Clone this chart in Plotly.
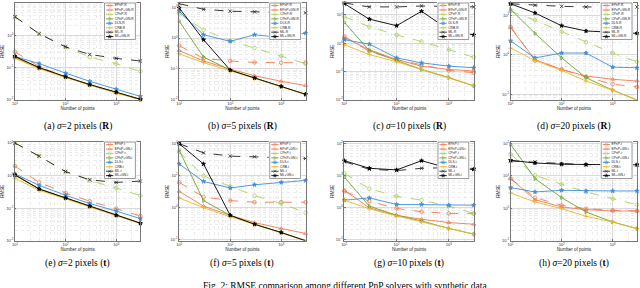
import math
import plotly.graph_objects as go

# ---------------- data ----------------
num_points = [10, 30, 100, 300, 1000, 3000]
methods = ['EPnP', 'EPnP+GN', 'CPnP', 'CPnP+GN', 'DLS', 'CRB', 'ML', 'ML+GN']
x_tick_vals = [10, 100, 1000]
x_tick_text = ['10<sup>1</sup>', '10<sup>2</sup>', '10<sup>3</sup>']

# rows follow the order of `methods`
rmse_R_s2 = [
    [0.305, 0.106, 0.0514, 0.0286, 0.0163, 0.0105],
    [0.210, 0.097, 0.0500, 0.0290, 0.0167, 0.0102],
    [3.74, 1.11, 0.433, 0.209, 0.131, 0.0748],
    [0.200, 0.095, 0.0500, 0.0285, 0.0165, 0.0101],
    [0.220, 0.131, 0.0665, 0.0370, 0.0211, 0.0126],
    [0.191, 0.092, 0.0490, 0.0280, 0.0160, 0.0100],
    [3.74, 1.11, 0.433, 0.253, 0.191, 0.158],
    [0.220, 0.099, 0.0514, 0.0293, 0.0171, 0.0102],
]
rmse_R_s5 = [
    [0.569, 0.219, 0.180, 0.162, 0.158, 0.160],
    [0.394, 0.180, 0.0977, 0.0598, 0.0394, 0.0286],
    [6.28, 1.85, 0.822, 0.480, 0.260, 0.148],
    [3.57, 0.242, 0.0906, 0.0504, 0.0267, 0.0148],
    [7.45, 1.28, 0.783, 1.28, 1.05, 1.45],
    [0.308, 0.159, 0.0863, 0.0491, 0.0267, 0.0148],
    [13.1, 8.63, 7.45, 7.10, 6.59, 6.59],
    [9.53, 0.885, 0.0910, 0.0505, 0.0268, 0.0149],
]
rmse_R_s10 = [
    [1.71, 0.512, 0.262, 0.175, 0.108, 0.0897],
    [1.58, 0.585, 0.262, 0.153, 0.117, 0.103],
    [8.51, 3.81, 1.95, 1.14, 0.585, 0.316],
    [5.41, 0.541, 0.242, 0.117, 0.0601, 0.0308],
    [1.31, 0.923, 0.300, 0.200, 0.153, 0.134],
    [0.875, 0.392, 0.217, 0.117, 0.0601, 0.0308],
    [26.3, 19.1, 19.1, 20.6, 20.0, 19.1],
    [24.8, 7.06, 4.13, 13.4, 2.92, 1.95],
]
rmse_R_s20 = [
    [5.11, 0.708, 0.422, 0.271, 0.178, 0.152],
    [4.82, 0.750, 0.422, 0.287, 0.237, 0.215],
    [12.6, 7.50, 3.83, 2.07, 1.10, 0.656],
    [14.1, 3.48, 0.826, 0.261, 0.126, 0.0708],
    [2.24, 0.826, 1.10, 1.10, 0.482, 0.465],
    [1.47, 0.708, 0.398, 0.215, 0.126, 0.0708],
    [19.5, 17.8, 16.8, 16.2, 16.2, 16.2],
    [19.5, 11.4, 5.41, 3.98, 3.69, 3.47],
]
rmse_t_s2 = [
    [1.96, 0.614, 0.292, 0.163, 0.0955, 0.0573],
    [1.07, 0.394, 0.206, 0.115, 0.0614, 0.0351],
    [10.0, 3.94, 1.32, 0.705, 0.413, 0.242],
    [1.02, 0.385, 0.201, 0.112, 0.0600, 0.0343],
    [1.12, 0.498, 0.248, 0.138, 0.0811, 0.0475],
    [0.830, 0.351, 0.192, 0.107, 0.0586, 0.0335],
    [10.0, 3.94, 1.32, 0.740, 0.614, 0.676],
    [1.05, 0.385, 0.206, 0.115, 0.0600, 0.0343],
]
rmse_t_s5 = [
    [6.08, 2.14, 1.64, 1.46, 1.46, 1.46],
    [3.20, 1.10, 0.566, 0.336, 0.219, 0.153],
    [55.2, 9.77, 4.57, 2.35, 1.33, 0.684],
    [62.2, 1.64, 0.566, 0.298, 0.164, 0.0910],
    [23.0, 6.52, 4.06, 5.14, 6.08, 7.00],
    [1.99, 0.977, 0.514, 0.298, 0.164, 0.0910],
    [100.0, 51.4, 40.6, 38.7, 36.9, 34.4],
    [100.0, 23.0, 0.566, 0.298, 0.164, 0.0910],
]
rmse_t_s10 = [
    [3.20, 1.57, 0.931, 0.735, 0.652, 0.637],
    [3.44, 0.977, 0.566, 0.426, 0.336, 0.298],
    [11.8, 3.87, 2.24, 1.69, 1.10, 0.652],
    [8.87, 1.10, 0.566, 0.378, 0.219, 0.146],
    [1.69, 1.99, 1.24, 1.24, 1.18, 1.18],
    [1.69, 0.910, 0.540, 0.352, 0.219, 0.146],
    [27.1, 15.7, 14.3, 16.9, 17.7, 15.7],
    [29.1, 16.9, 15.0, 29.1, 16.9, 15.7],
]
rmse_t_s20 = [
    [8.28, 2.14, 1.24, 0.977, 0.867, 0.828],
    [8.28, 1.85, 1.10, 0.910, 0.828, 0.828],
    [46.8, 10.5, 5.52, 3.20, 1.99, 1.30],
    [95.3, 8.28, 2.14, 0.771, 0.378, 0.235],
    [4.36, 3.20, 3.61, 3.44, 3.44, 3.44],
    [2.98, 1.57, 0.977, 0.566, 0.378, 0.235],
    [29.1, 27.1, 24.0, 22.4, 22.4, 22.4],
    [30.5, 25.2, 23.0, 22.4, 22.1, 22.1],
]

ytick_R = [0.01, 0.1, 1, 10]
ytick_R_text = ['10<sup>-2</sup>', '10<sup>-1</sup>', '10<sup>0</sup>', '10<sup>1</sup>']
ytick_R20 = [0.1, 1, 10]
ytick_R20_text = ['10<sup>-1</sup>', '10<sup>0</sup>', '10<sup>1</sup>']
ytick_t2 = [0.01, 0.1, 1, 10]
ytick_t2_text = ['10<sup>-2</sup>', '10<sup>-1</sup>', '10<sup>0</sup>', '10<sup>1</sup>']
ytick_t = [0.1, 1, 10, 100]
ytick_t_text = ['10<sup>-1</sup>', '10<sup>0</sup>', '10<sup>1</sup>', '10<sup>2</sup>']

sigmas = [2, 5, 10, 20]
letters = ['a', 'b', 'c', 'd', 'e', 'f', 'g', 'h']

# ---------------- styling / layout ----------------
W, H = 640, 288
colors = ['#EE7B52', '#EE7B52', '#A9D15A', '#6BA52C', '#3D8FD8', '#F1B425', '#222222', '#000000']
dashes = ['dash', 'solid', 'dash', 'solid', 'solid', 'solid', 'dash', 'solid']
symbols = ['circle-open', 'triangle-up-open', 'circle-open', 'triangle-right-open',
           'star', 'cross-thin-open', 'x-thin-open', 'star']
msizes = [3.6, 3.6, 3.6, 3.4, 3.2, 3.4, 3.4, 3.0]

panels = [
    dict(data=rmse_R_s2, comp='R', yr=(-2.0, 1.0), yt=ytick_R, ytt=ytick_R_text),
    dict(data=rmse_R_s5, comp='R', yr=(-2.0, 1.14), yt=ytick_R, ytt=ytick_R_text),
    dict(data=rmse_R_s10, comp='R', yr=(-2.0, 1.42), yt=ytick_R, ytt=ytick_R_text),
    dict(data=rmse_R_s20, comp='R', yr=(-1.14, 1.31), yt=ytick_R20, ytt=ytick_R20_text),
    dict(data=rmse_t_s2, comp='t', yr=(-2.0, 1.03), yt=ytick_t2, ytt=ytick_t2_text),
    dict(data=rmse_t_s5, comp='t', yr=(-1.04, 2.05), yt=ytick_t, ytt=ytick_t_text),
    dict(data=rmse_t_s10, comp='t', yr=(-1.04, 2.05), yt=ytick_t, ytt=ytick_t_text),
    dict(data=rmse_t_s20, comp='t', yr=(-1.0, 2.05), yt=ytick_t, ytt=ytick_t_text),
]
col_px = [(12, 138), (177, 304), (343, 473), (510, 637)]
row_px = [(1, 99), (142, 242)]
caption_y_px = [126, 265]

minor_vals = [m * 10 ** k for k in range(-3, 4) for m in range(2, 10)]

def px_x(v):
    return v / W

def px_y(v):
    return 1 - v / H

fig = go.Figure()
layout = dict(width=W, height=H, margin=dict(l=0, r=0, t=0, b=0),
              paper_bgcolor='white', plot_bgcolor='white', showlegend=False,
              font=dict(family='Liberation Sans, Arial, sans-serif', color='#222'))
annotations = []

grid_common = dict(showline=True, mirror=True, linecolor='#777', linewidth=0.6,
                   showgrid=True, gridcolor='#dadada', gridwidth=0.5, zeroline=False,
                   ticks='inside', ticklen=1.5, tickcolor='#777', tickwidth=0.5,
                   tickfont=dict(size=4, color='#333'), tickmode='array',
                   minor=dict(tickmode='array', tickvals=minor_vals, showgrid=True,
                              gridcolor='#ececec', griddash='dot', gridwidth=0.5, ticks=''))

for i, p in enumerate(panels):
    n = i + 1
    r, c = divmod(i, 4)
    x0, x1 = col_px[c]
    y0, y1 = row_px[r]
    suffix = '-' + p['comp']
    for k, m in enumerate(methods):
        fig.add_trace(go.Scatter(
            x=num_points, y=p['data'][k], mode='lines+markers', name=m + suffix,
            xaxis=f'x{n}', yaxis=f'y{n}', cliponaxis=False,
            line=dict(color=colors[k], width=0.9, dash=dashes[k]),
            marker=dict(symbol=symbols[k], size=msizes[k], color=colors[k],
                        line=dict(color=colors[k], width=0.8)),
        ))
    layout[f'xaxis{n}'] = dict(type='log', range=[1, math.log10(3000)],
                               domain=[px_x(x0), px_x(x1)], anchor=f'y{n}',
                               tickvals=x_tick_vals, ticktext=x_tick_text,
                               title=dict(text='Number of points', font=dict(size=4.5), standoff=1),
                               **grid_common)
    layout[f'yaxis{n}'] = dict(type='log', range=list(p['yr']),
                               domain=[px_y(y1), px_y(y0)], anchor=f'x{n}',
                               tickvals=p['yt'], ticktext=p['ytt'],
                               title=dict(text='RMSE', font=dict(size=4.5), standoff=1),
                               **grid_common)
    # caption
    annotations.append(dict(
        x=px_x((x0 + x1) / 2), y=px_y(caption_y_px[r]), xref='paper', yref='paper',
        text=f"({letters[i]}) <i>σ</i>={sigmas[c]} pixels (<b>{p['comp']}</b>)",
        showarrow=False, xanchor='center', yanchor='middle',
        font=dict(family='Liberation Serif, Times New Roman, serif', size=9.5, color='black')))

    # legend box as its own small axis (pixel units)
    ln = n + 8
    lx0, lx1 = x1 - 36, x1 - 5
    ly0, ly1 = y0, y0 + 37
    lw, lh = lx1 - lx0, ly1 - ly0
    layout[f'xaxis{ln}'] = dict(domain=[px_x(lx0 - 1), px_x(lx1 + 1)], range=[-1, lw + 1],
                                anchor=f'y{ln}', visible=False, fixedrange=True)
    layout[f'yaxis{ln}'] = dict(domain=[px_y(ly1 + 1), px_y(ly0 - 1)], range=[lh + 1, -1],
                                anchor=f'x{ln}', visible=False, fixedrange=True)
    fig.add_trace(go.Scatter(x=[0, lw, lw, 0, 0], y=[0, 0, lh, lh, 0], mode='lines',
                             fill='toself', fillcolor='white',
                             line=dict(color='#555', width=0.6),
                             xaxis=f'x{ln}', yaxis=f'y{ln}', hoverinfo='skip'))
    centers = [2.6 + k * 4.5 for k in range(len(methods))]
    for k, m in enumerate(methods):
        fig.add_trace(go.Scatter(
            x=[1.5, 5.2, 8.9], y=[centers[k]] * 3, mode='lines+markers',
            xaxis=f'x{ln}', yaxis=f'y{ln}', hoverinfo='skip',
            line=dict(color=colors[k], width=0.9, dash=dashes[k]),
            marker=dict(symbol=symbols[k], size=[0, msizes[k] * 0.9, 0], color=colors[k],
                        line=dict(color=colors[k], width=0.7))))
    fig.add_trace(go.Scatter(
        x=[10.3] * len(methods), y=centers, mode='text',
        text=[m + suffix for m in methods], textposition='middle right',
        textfont=dict(size=3.3, color='#222'),
        xaxis=f'x{ln}', yaxis=f'y{ln}', hoverinfo='skip', cliponaxis=False))

annotations.append(dict(
    x=px_x(345), y=px_y(281), xref='paper', yref='paper',
    text='Fig. 2: RMSE comparison among different PnP solvers with synthetic data.',
    showarrow=False, xanchor='center', yanchor='top',
    font=dict(family='Liberation Serif, Times New Roman, serif', size=9.5, color='black')))

layout['annotations'] = annotations
fig.update_layout(**layout)
fig.write_html('out.html', config={'displayModeBar': False},
               post_script="document.body.style.margin='0px';")
